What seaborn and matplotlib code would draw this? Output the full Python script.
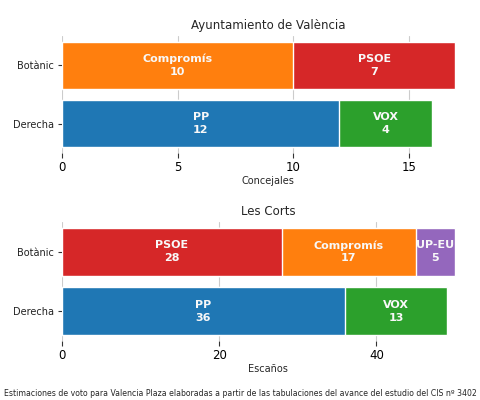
import pandas as pd
import matplotlib.pyplot as plt
import seaborn as sns
from matplotlib.ticker import MultipleLocator

# Ayuntamiento de València
ayto_blocs = ["Botànic", "Botànic", "Derecha", "Derecha"]
ayto_parties = ["Compromís", "PSOE", "PP", "VOX"]
ayto_seats = [10, 7, 12, 4]

# Les Corts
corts_blocs = ["Botànic", "Botànic", "Botànic", "Derecha", "Derecha"]
corts_parties = ["PSOE", "Compromís", "UP-EU", "PP", "VOX"]
corts_seats = [28, 17, 5, 36, 13]

bloc_order = ["Botànic", "Derecha"]
party_colors = {
    "PP": "#1f77b4",
    "Compromís": "#ff7f0e",
    "VOX": "#2ca02c",
    "PSOE": "#d62728",
    "UP-EU": "#9467bd",
}

footer = ("Estimaciones de voto para Valencia Plaza elaboradas a partir de las "
          "tabulaciones del avance del estudio del CIS nº 3402")

sns.set_style("whitegrid")
plt.rcParams["font.family"] = ["DejaVu Sans"]
plt.rcParams["xtick.bottom"] = True
plt.rcParams["ytick.left"] = True
plt.rcParams["xtick.color"] = "#333333"
plt.rcParams["ytick.color"] = "#333333"
plt.rcParams["xtick.labelcolor"] = "black"
plt.rcParams["ytick.labelcolor"] = "#222222"


def stacked(ax, blocs, parties, seats, title, xlabel, step):
    df = pd.DataFrame({"bloc": blocs, "party": parties, "seats": seats})
    df["end"] = df.groupby("bloc")["seats"].cumsum()
    df["start"] = df["end"] - df["seats"]
    df["layer"] = df.groupby("bloc").cumcount()

    # outer segments first, inner ones drawn on top
    for layer in sorted(df["layer"].unique(), reverse=True):
        part = df[df["layer"] == layer]
        sns.barplot(data=part, x="end", y="bloc", hue="party", order=bloc_order,
                    palette=party_colors, dodge=False, width=0.8, saturation=1,
                    legend=False, ax=ax)

    for _, row in df.iterrows():
        ax.text(row["start"] + row["seats"] / 2, bloc_order.index(row["bloc"]),
                f"{row['party']}\n{row['seats']}", ha="center", va="center",
                color="#f8f8f8", fontweight="bold", fontsize=8, linespacing=1.35)

    ax.xaxis.set_major_locator(MultipleLocator(step))
    ax.set_title(title, fontsize=8.5, pad=5)
    ax.set_xlabel(xlabel, fontsize=7, labelpad=2)
    ax.set_ylabel("")
    ax.tick_params(axis="x", labelsize=8.5, length=3.5, width=0.8, pad=2)
    ax.tick_params(axis="y", labelsize=7, length=3, width=0.8, pad=2.5)
    ax.grid(axis="y", visible=False)
    ax.grid(axis="x", color="#cccccc", linewidth=0.8)
    ax.set_axisbelow(True)
    sns.despine(ax=ax, left=True, bottom=True)


fig = plt.figure(figsize=(4.8, 4), dpi=100)
ax1 = fig.add_axes([0.129, 0.6175, 0.86, 0.2925])
ax2 = fig.add_axes([0.129, 0.1475, 0.86, 0.2975])

stacked(ax1, ayto_blocs, ayto_parties, ayto_seats, "Ayuntamiento de València", "Concejales", 5)
stacked(ax2, corts_blocs, corts_parties, corts_seats, "Les Corts", "Escaños", 20)

fig.text(0.5, 0.017, footer, ha="center", va="center", fontsize=5.6)

fig.savefig("out.png", dpi=100)
